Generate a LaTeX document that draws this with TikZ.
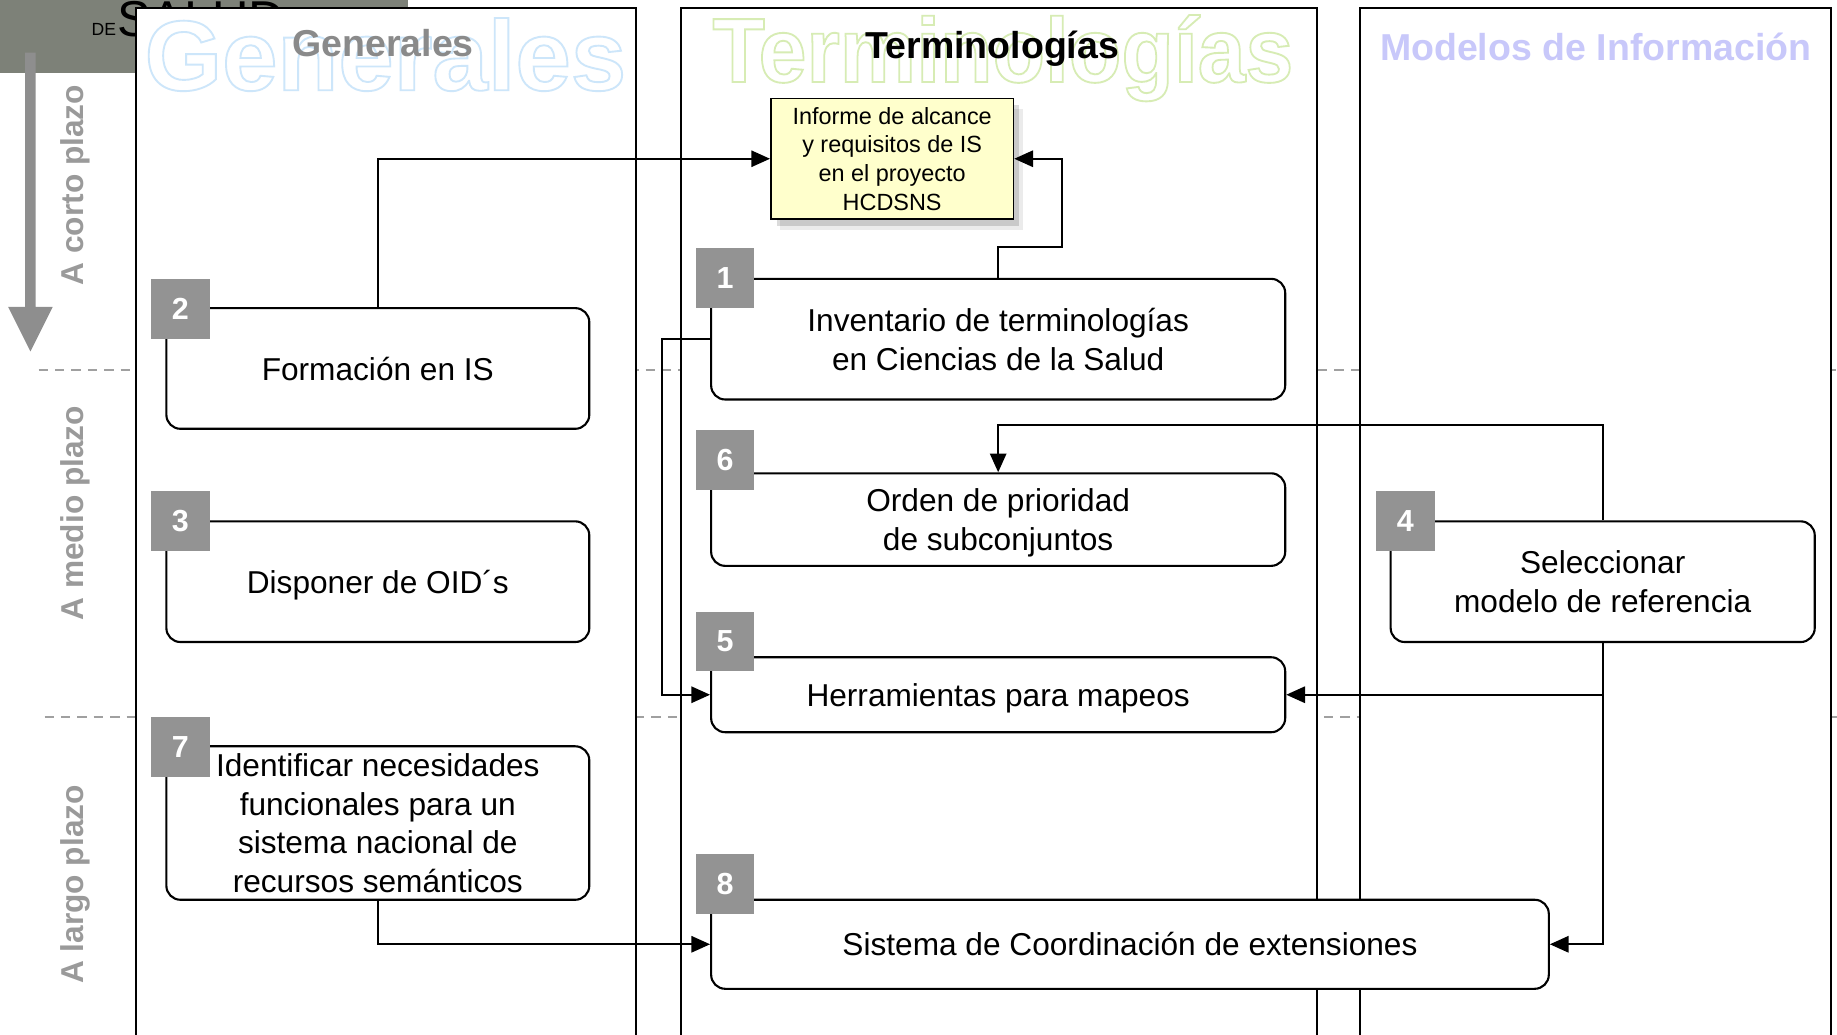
\documentclass[tikz,border=0pt]{standalone}
\usepackage{fontspec}
\setmainfont{Liberation Sans}
\usetikzlibrary{arrows.meta,shadows,calc}
\definecolor{hdrgreen}{RGB}{125,129,120}
\definecolor{badgegray}{RGB}{147,147,147}
\definecolor{termgray}{RGB}{154,154,154}
\definecolor{titlegray}{RGB}{138,138,138}
\definecolor{sepgray}{RGB}{160,160,160}
\definecolor{arrowgray}{RGB}{142,142,142}
\definecolor{wmblue}{RGB}{205,230,250}
\definecolor{wmgreen}{RGB}{215,236,180}
\definecolor{lavender}{RGB}{200,200,250}
\definecolor{yellowbox}{RGB}{255,255,204}
\newcommand\outl[1]{\special{pdf:literal 1 Tr 1.6 w}#1\special{pdf:literal 0 Tr}}
\tikzset{
 lane/.style={draw=black, line width=2pt, fill=white},
 task/.style={draw=black, line width=1.8pt, fill=white, rounded corners=12pt, align=center, inner sep=0pt, text depth=0pt, font=\fontsize{27}{33}\selectfont},
 badge/.style={fill=badgegray, minimum width=50pt, minimum height=51pt, inner sep=0pt, text=white, font=\bfseries\fontsize{26}{30}\selectfont},
 conn/.style={line width=1.6pt, -{Triangle[length=16pt,width=14pt]}},
 termlabel/.style={text=termgray, font=\bfseries\fontsize{27}{30}\selectfont, rotate=90, inner sep=0pt},
 sepline/.style={draw=sepgray, line width=1.5pt, dash pattern=on 8pt off 6pt},
 title/.style={anchor=base, inner sep=0pt, font=\bfseries\fontsize{32}{34}\selectfont},
}
\begin{document}
\begin{tikzpicture}[x=1pt,y=-1pt]
\useasboundingbox (0,0) rectangle (1568,883);
\clip (0,0) rectangle (1568,883);
% header block
\fill[hdrgreen] (0,0) rectangle (348,62);
\node[anchor=base west, inner sep=0pt, font=\fontsize{15}{15}\selectfont] (de) at (78,30) {DE};
\node[anchor=base west, inner sep=0pt, font=\fontsize{43}{43}\selectfont] (salud) at (100,31) {SALUD};
% separators
\draw[sepline] (33,316) -- (1568,316);
\draw[sepline] (38,612) -- (1568,612);
% time arrow
\fill[arrowgray] (21.5,45) -- (30.5,45) -- (30.5,262) -- (45,262) -- (26,300) -- (7,262) -- (21.5,262) -- cycle;
\node[termlabel] (corto) at (64,158) {A corto plazo};
\node[termlabel] (medio) at (64,438) {A medio plazo};
\node[termlabel] (largo) at (64,755) {A largo plazo};
% lanes
\draw[lane] (116,7) rectangle (543,900);
\draw[lane] (581,7) rectangle (1124,900);
\draw[lane] (1161,7) rectangle (1563,900);
% watermarks
\node[anchor=base, inner sep=0pt, text=wmblue, font=\bfseries\fontsize{85}{85}\selectfont] (wm1) at (329,77) {\outl{Generales}};
\node[anchor=base, inner sep=0pt, text=wmgreen, font=\bfseries\fontsize{78}{78}\selectfont] (wm2) at (856,70) {\scalebox{0.94}[1]{\outl{Terminologías}}};
% titles
\node[title, text=titlegray] (t1) at (327,48) {Generales};
\node[title, text=black] (t2) at (847,50) {Terminologías};
\node[title, text=lavender] (t3) at (1362,52) {Modelos de Información};
% yellow box
\node[draw=black, line width=1.5pt, fill=yellowbox, minimum width=207pt, minimum height=103pt, align=center, inner sep=0pt, font=\fontsize{20}{24.5}\selectfont,
  drop shadow={shadow xshift=8pt, shadow yshift=-9pt, fill=black, opacity=0.08},
  drop shadow={shadow xshift=5pt, shadow yshift=-6pt, fill=black, opacity=0.14}] (yel) at (761.5,135.5) {Informe de alcance\\y requisitos de IS\\en el proyecto\\HCDSNS};
% task boxes
\node[task, minimum width=361pt, minimum height=103pt] (b2) at (322.5,314.5) {Formación en IS};
\node[task, minimum width=361pt, minimum height=103pt] (b3) at (322.5,496.5) {Disponer de OID´s};
\node[task, minimum width=361pt, minimum height=131pt] (b7) at (322.5,702.5) {Identificar necesidades\\funcionales para un\\sistema nacional de\\recursos semánticos};
\node[task, minimum width=490pt, minimum height=103pt] (b1) at (852,289.5) {Inventario de terminologías\\en Ciencias de la Salud};
\node[task, minimum width=490pt, minimum height=79pt] (b6) at (852,443.5) {Orden de prioridad\\de subconjuntos};
\node[task, minimum width=490pt, minimum height=64pt] (b5) at (852,593) {Herramientas para mapeos};
\node[task, minimum width=715pt, minimum height=76pt] (b8) at (964.5,806) {Sistema de Coordinación de extensiones};
\node[task, minimum width=362pt, minimum height=103pt] (b4) at (1368,496.5) {Seleccionar\\modelo de referencia};
% connectors
\draw[conn] (b2.north) |- (yel.west);
\draw[conn] (b1.north) -- ++(0,-26) -| ($(yel.east)+(41,0)$) -- (yel.east);
\draw[conn] (b1.west) -- ++(-41,0) |- (b5.west);
\draw[conn] (b4.north) -- ++(0,-81) -| (b6.north);
\draw[conn] (b4.south) |- (b5.east);
\draw[conn] (b4.south) |- (b8.east);
\draw[conn] (b7.south) |- (b8.west);
% badges
\node[badge] (n2) at (154,263.5) {2};
\node[badge] (n3) at (154,444.5) {3};
\node[badge] (n7) at (154,637.5) {7};
\node[badge] (n1) at (619,237) {1};
\node[badge] (n6) at (619,392.5) {6};
\node[badge] (n5) at (619,547.5) {5};
\node[badge] (n8) at (619,754.5) {8};
\node[badge] (n4) at (1199.5,444.5) {4};
\end{tikzpicture}
\end{document}
